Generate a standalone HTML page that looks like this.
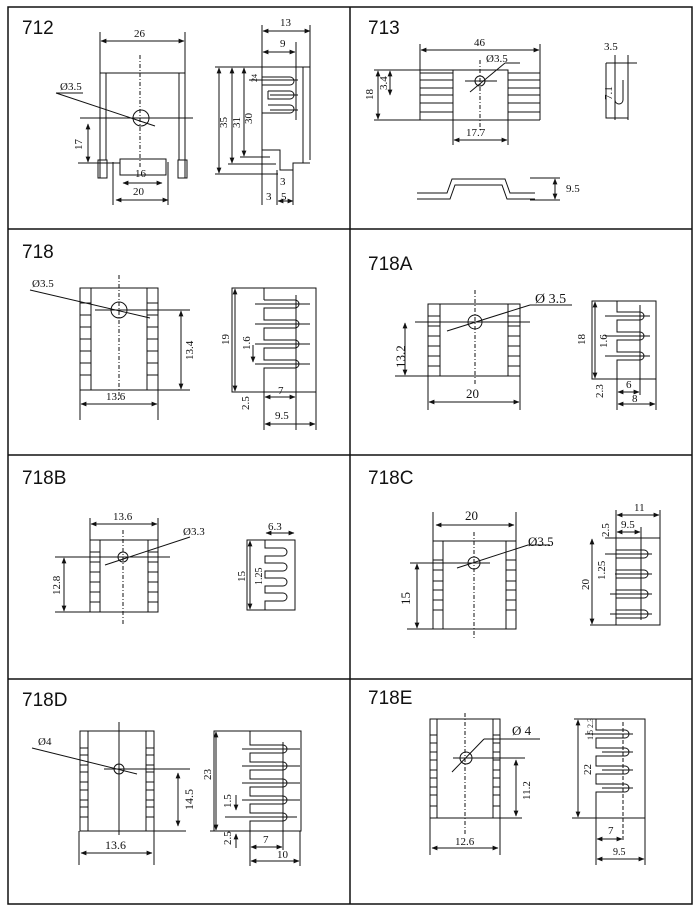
<!DOCTYPE html>
<html><head><meta charset="utf-8"><style>
html,body{margin:0;padding:0;background:#fff}
svg{display:block}
text{font-family:"Liberation Serif",serif;font-size:11px;fill:#111}
.t{font-family:"Liberation Sans",sans-serif;font-size:19px}
</style></head><body>
<svg width="700" height="909" viewBox="0 0 700 909" xmlns="http://www.w3.org/2000/svg">
<defs><marker id="a" viewBox="0 0 10 10" refX="9" refY="5" markerWidth="6" markerHeight="6" orient="auto-start-reverse"><path d="M0,1L10,5L0,9z" fill="#111"/></marker></defs>
<g fill="none" stroke="#111" stroke-width="1.5">
<rect x="8" y="7" width="684" height="897"/>
<line x1="8" y1="229" x2="692" y2="229"/><line x1="8" y1="455" x2="692" y2="455"/><line x1="8" y1="679" x2="692" y2="679"/>
<line x1="350" y1="7" x2="350" y2="904"/>
</g>
<g class="t"><text x="22" y="34" class="t">712</text><text x="368" y="34" class="t">713</text><text x="22" y="258" class="t">718</text><text x="368" y="270" class="t">718A</text><text x="22" y="484" class="t">718B</text><text x="368" y="484" class="t">718C</text><text x="22" y="706" class="t">718D</text><text x="368" y="704" class="t">718E</text></g>

<g fill="none" stroke="#111" stroke-width="1">
<!-- 712 front -->
<line x1="100" y1="32" x2="100" y2="178"/><line x1="185" y1="32" x2="185" y2="178"/>
<line x1="100" y1="73" x2="185" y2="73"/><line x1="106" y1="73" x2="106" y2="160"/><line x1="179" y1="73" x2="179" y2="160"/>
<line x1="101" y1="41" x2="184" y2="41" marker-start="url(#a)" marker-end="url(#a)"/>
<line x1="140" y1="55" x2="140" y2="168" stroke-dasharray="4,2,1,2"/>
<circle cx="141" cy="118" r="8"/><line x1="80" y1="118" x2="193" y2="118"/>
<line x1="56" y1="93" x2="155" y2="126"/><line x1="56" y1="93" x2="83" y2="93"/>
<line x1="78" y1="163" x2="120" y2="163"/>
<line x1="88" y1="124" x2="88" y2="162" marker-start="url(#a)" marker-end="url(#a)"/>
<rect x="98" y="160" width="9" height="18"/><rect x="178" y="160" width="9" height="18"/>
<line x1="113" y1="162" x2="113" y2="205"/><line x1="168" y1="162" x2="168" y2="205"/>
<rect x="120" y="159" width="46" height="16"/>
<line x1="123" y1="183" x2="162" y2="183" marker-start="url(#a)" marker-end="url(#a)"/>
<line x1="116" y1="200" x2="168" y2="200" marker-start="url(#a)" marker-end="url(#a)"/>
<!-- 712 side -->
<line x1="262" y1="25" x2="262" y2="205"/><line x1="310" y1="25" x2="310" y2="160"/>
<line x1="215" y1="67" x2="310" y2="67"/><line x1="303" y1="67" x2="303" y2="163"/><line x1="303" y1="163" x2="310" y2="163"/>
<line x1="263" y1="31" x2="310" y2="31" marker-start="url(#a)" marker-end="url(#a)"/>
<line x1="296" y1="42" x2="296" y2="120"/><line x1="263" y1="52" x2="295" y2="52" marker-start="url(#a)" marker-end="url(#a)"/>
<path d="M262,77 H290 A4,4 0 0 1 290,85 H262"/><path d="M268,91 H290 A4,4 0 0 1 290,99 H268 V91"/><path d="M268,105 H290 A4,4 0 0 1 290,113 H262"/>
<line x1="249" y1="80" x2="298" y2="80"/><line x1="270" y1="95" x2="298" y2="95"/><line x1="270" y1="110" x2="298" y2="110"/>
<path d="M262,113 V150 H280 V170 H293 V163 H303"/>
<line x1="219" y1="68" x2="219" y2="173" marker-start="url(#a)" marker-end="url(#a)"/><line x1="215" y1="174" x2="278" y2="174"/>
<line x1="232" y1="68" x2="232" y2="163" marker-start="url(#a)" marker-end="url(#a)"/><line x1="228" y1="164" x2="276" y2="164"/>
<line x1="244" y1="68" x2="244" y2="156" marker-start="url(#a)" marker-end="url(#a)"/><line x1="240" y1="157" x2="270" y2="157"/>
<line x1="277" y1="170" x2="277" y2="205"/><line x1="293" y1="170" x2="293" y2="205"/><line x1="278" y1="201" x2="293" y2="201" marker-start="url(#a)" marker-end="url(#a)"/>
<!-- 713 -->
<line x1="420" y1="44" x2="420" y2="120"/><line x1="540" y1="44" x2="540" y2="120"/>
<line x1="421" y1="50" x2="539" y2="50" marker-start="url(#a)" marker-end="url(#a)"/>
<rect x="453" y="70" width="55" height="50"/>
<path d="M420,73 H453 M420,80 H453 M420,88 H453 M420,95 H453 M420,103 H453 M420,112 H453 M420,120 H453"/>
<path d="M508,73 H540 M508,80 H540 M508,88 H540 M508,95 H540 M508,103 H540 M508,112 H540 M508,120 H540"/>
<line x1="480" y1="60" x2="480" y2="130" stroke-dasharray="4,2,1,2"/>
<circle cx="480" cy="81" r="5"/><line x1="465" y1="81" x2="497" y2="81"/><line x1="470" y1="92" x2="505" y2="63"/><line x1="505" y1="63" x2="520" y2="63"/>
<line x1="374" y1="70" x2="453" y2="70"/><line x1="374" y1="120" x2="420" y2="120"/>
<line x1="378" y1="71" x2="378" y2="119" marker-start="url(#a)" marker-end="url(#a)"/>
<line x1="390" y1="71" x2="390" y2="95" marker-start="url(#a)" marker-end="url(#a)"/>
<line x1="453" y1="120" x2="453" y2="145"/><line x1="508" y1="120" x2="508" y2="145"/><line x1="454" y1="140" x2="507" y2="140" marker-start="url(#a)" marker-end="url(#a)"/>
<path d="M417,193 H447 L452,179 H505 L510,193 H535"/><path d="M417,199 H450 L455,185 H502 L507,199 H535"/>
<line x1="530" y1="178" x2="560" y2="178"/><line x1="530" y1="200" x2="560" y2="200"/>
<line x1="555" y1="179" x2="555" y2="199" marker-start="url(#a)" marker-end="url(#a)"/>
<line x1="615" y1="55" x2="615" y2="120"/><line x1="628" y1="55" x2="628" y2="120"/><line x1="606" y1="63" x2="637" y2="63"/>
<path d="M606,63 V118 H628"/><path d="M615,80 V100 A4,4 0 0 0 623,100 V80"/>
<!-- 718 -->
<rect x="80" y="288" width="78" height="102"/><line x1="91" y1="288" x2="91" y2="390"/><line x1="147" y1="288" x2="147" y2="390"/>
<path d="M80,303H91M80,315H91M80,327H91M80,339H91M80,351H91M80,363H91M80,375H91M147,303H158M147,315H158M147,327H158M147,339H158M147,351H158M147,363H158M147,375H158"/>
<line x1="80" y1="390" x2="80" y2="420"/><line x1="158" y1="390" x2="158" y2="420"/>
<line x1="81" y1="404" x2="157" y2="404" marker-start="url(#a)" marker-end="url(#a)"/>
<line x1="119" y1="275" x2="119" y2="400" stroke-dasharray="4,2,1,2"/>
<circle cx="119" cy="310" r="8"/><line x1="95" y1="310" x2="190" y2="310"/><line x1="30" y1="290" x2="150" y2="318"/>
<line x1="158" y1="390" x2="190" y2="390"/><line x1="181" y1="311" x2="181" y2="389" marker-start="url(#a)" marker-end="url(#a)"/>
<rect x="232" y="288" width="84" height="104"/>
<path d="M264,288 V300 M264,300 H295 A4,4 0 0 1 295,308 H264 V320 H295 A4,4 0 0 1 295,328 H264 V340 H295 A4,4 0 0 1 295,348 H264 V360 H295 A4,4 0 0 1 295,368 H264 V392"/>
<path d="M255,304H310M255,324H310M255,344H310M255,364H310"/><line x1="296" y1="295" x2="296" y2="430"/>
<line x1="235" y1="289" x2="235" y2="391" marker-start="url(#a)" marker-end="url(#a)"/>
<line x1="264" y1="392" x2="264" y2="430"/><line x1="316" y1="392" x2="316" y2="430"/>
<line x1="265" y1="397" x2="295" y2="397" marker-start="url(#a)" marker-end="url(#a)"/>
<line x1="265" y1="424" x2="315" y2="424" marker-start="url(#a)" marker-end="url(#a)"/>
<line x1="253" y1="345" x2="253" y2="362" marker-end="url(#a)"/>
<!-- 718A -->
<rect x="428" y="304" width="92" height="72"/><line x1="440" y1="304" x2="440" y2="376"/><line x1="508" y1="304" x2="508" y2="376"/>
<path d="M428,316H440M428,326H440M428,336H440M428,346H440M428,356H440M428,366H440M508,316H520M508,326H520M508,336H520M508,346H520M508,356H520M508,366H520"/>
<line x1="475" y1="290" x2="475" y2="384" stroke-dasharray="4,2,1,2"/>
<circle cx="475" cy="322" r="7"/><line x1="415" y1="322" x2="530" y2="322"/><line x1="447" y1="331" x2="530" y2="305"/><line x1="530" y1="305" x2="572" y2="305"/>
<line x1="395" y1="376" x2="428" y2="376"/><line x1="405" y1="323" x2="405" y2="375" marker-start="url(#a)" marker-end="url(#a)"/>
<line x1="428" y1="376" x2="428" y2="410"/><line x1="520" y1="376" x2="520" y2="410"/><line x1="429" y1="402" x2="519" y2="402" marker-start="url(#a)" marker-end="url(#a)"/>
<rect x="592" y="301" width="64" height="78"/>
<path d="M617,301 V312 H640 A4,4 0 0 1 640,320 H617 V332 H640 A4,4 0 0 1 640,340 H617 V352 H640 A4,4 0 0 1 640,360 H617 V379"/>
<path d="M605,316H650M605,336H650M605,356H650"/><line x1="640" y1="305" x2="640" y2="395"/>
<line x1="595" y1="302" x2="595" y2="378" marker-start="url(#a)" marker-end="url(#a)"/>
<line x1="617" y1="379" x2="617" y2="410"/><line x1="656" y1="379" x2="656" y2="410"/>
<line x1="618" y1="392" x2="639" y2="392" marker-start="url(#a)" marker-end="url(#a)"/><line x1="618" y1="404" x2="655" y2="404" marker-start="url(#a)" marker-end="url(#a)"/>
<!-- 718B -->
<rect x="90" y="540" width="68" height="72"/><line x1="100" y1="540" x2="100" y2="612"/><line x1="148" y1="540" x2="148" y2="612"/>
<path d="M90,552H100M90,562H100M90,572H100M90,582H100M90,592H100M90,602H100M148,552H158M148,562H158M148,572H158M148,582H158M148,592H158M148,602H158"/>
<line x1="90" y1="518" x2="90" y2="540"/><line x1="158" y1="518" x2="158" y2="540"/><line x1="91" y1="524" x2="157" y2="524" marker-start="url(#a)" marker-end="url(#a)"/>
<line x1="123" y1="530" x2="123" y2="625" stroke-dasharray="4,2,1,2"/>
<circle cx="123" cy="557" r="5"/><line x1="55" y1="557" x2="170" y2="557"/><line x1="105" y1="565" x2="190" y2="537"/>
<line x1="55" y1="612" x2="90" y2="612"/><line x1="64" y1="558" x2="64" y2="611" marker-start="url(#a)" marker-end="url(#a)"/>
<rect x="247" y="540" width="48" height="70"/>
<path d="M265,540 V548 H283 A4,4 0 0 1 283,556 H265 V563 H283 A4,4 0 0 1 283,571 H265 V578 H283 A4,4 0 0 1 283,586 H265 V593 H283 A4,4 0 0 1 283,601 H265 V610"/>
<line x1="250" y1="541" x2="250" y2="609" marker-start="url(#a)" marker-end="url(#a)"/>
<line x1="266" y1="533" x2="294" y2="533" marker-start="url(#a)" marker-end="url(#a)"/>
<!-- 718C -->
<rect x="433" y="541" width="83" height="88"/><line x1="443" y1="541" x2="443" y2="629"/><line x1="506" y1="541" x2="506" y2="629"/>
<path d="M433,560H443M433,570H443M433,581H443M433,590H443M433,600H443M433,610H443M506,560H516M506,570H516M506,581H516M506,590H516M506,600H516M506,610H516"/>
<line x1="433" y1="512" x2="433" y2="541"/><line x1="516" y1="512" x2="516" y2="541"/><line x1="436" y1="525" x2="514" y2="525" marker-start="url(#a)" marker-end="url(#a)"/>
<line x1="474" y1="532" x2="474" y2="640" stroke-dasharray="4,2,1,2"/>
<circle cx="474" cy="563" r="6"/><line x1="410" y1="563" x2="490" y2="563"/><line x1="457" y1="568" x2="528" y2="545"/><line x1="528" y1="545" x2="550" y2="545"/>
<line x1="407" y1="629" x2="516" y2="629"/><line x1="417" y1="564" x2="417" y2="628" marker-start="url(#a)" marker-end="url(#a)"/>
<rect x="616" y="538" width="44" height="87"/>
<path d="M616,538 V545"/><path d="M605,538 H616 V550 H644 A4,4 0 0 1 644,558 H616 V570 H644 A4,4 0 0 1 644,578 H616 V590 H644 A4,4 0 0 1 644,598 H616 V610 H644 A4,4 0 0 1 644,618 H616 V625 H590"/>
<path d="M605,554H652M615,574H652M610,594H652M610,614H652"/><line x1="641" y1="527" x2="641" y2="620"/>
<line x1="616" y1="510" x2="616" y2="538"/><line x1="660" y1="510" x2="660" y2="538"/>
<line x1="617" y1="515" x2="659" y2="515" marker-start="url(#a)" marker-end="url(#a)"/><line x1="617" y1="532" x2="640" y2="532" marker-start="url(#a)" marker-end="url(#a)"/>
<line x1="592" y1="539" x2="592" y2="624" marker-start="url(#a)" marker-end="url(#a)"/>
<!-- 718D -->
<rect x="80" y="731" width="74" height="100"/><line x1="88" y1="731" x2="88" y2="831"/><line x1="146" y1="731" x2="146" y2="831"/>
<path d="M80,748H88M80,755H88M80,765H88M80,772H88M80,782H88M80,790H88M80,800H88M80,807H88M80,817H88M146,748H154M146,755H154M146,765H154M146,772H154M146,782H154M146,790H154M146,800H154M146,807H154M146,817H154"/>
<line x1="119" y1="722" x2="119" y2="835"/><circle cx="119" cy="769" r="5"/><line x1="104" y1="769" x2="190" y2="769"/><line x1="32" y1="748" x2="137" y2="774"/>
<line x1="154" y1="831" x2="186" y2="831"/><line x1="178" y1="773" x2="178" y2="826" marker-start="url(#a)" marker-end="url(#a)"/>
<line x1="79" y1="831" x2="79" y2="865"/><line x1="154" y1="831" x2="154" y2="865"/><line x1="81" y1="853" x2="152" y2="853" marker-start="url(#a)" marker-end="url(#a)"/>
<rect x="214" y="731" width="87" height="100"/><line x1="210" y1="831" x2="250" y2="831"/>
<path d="M250,731 V745 H283 A4,4 0 0 1 283,753 H250 V762 H283 A4,4 0 0 1 283,770 H250 V779 H283 A4,4 0 0 1 283,787 H250 V796 H283 A4,4 0 0 1 283,804 H250 V813 H283 A4,4 0 0 1 283,821 H250 V831"/>
<path d="M242,749H300M242,766H300M242,783H300M242,800H300M225,817H297"/>
<line x1="283" y1="742" x2="283" y2="850"/><line x1="250" y1="831" x2="250" y2="866"/><line x1="300" y1="831" x2="300" y2="866"/>
<line x1="216" y1="732" x2="216" y2="830" marker-start="url(#a)" marker-end="url(#a)"/>
<line x1="251" y1="847" x2="282" y2="847" marker-start="url(#a)" marker-end="url(#a)"/><line x1="251" y1="861" x2="299" y2="861" marker-start="url(#a)" marker-end="url(#a)"/>
<line x1="236" y1="795" x2="236" y2="810" marker-end="url(#a)"/><line x1="236" y1="848" x2="236" y2="834" marker-end="url(#a)"/>
<!-- 718E -->
<rect x="430" y="719" width="70" height="99"/><line x1="437" y1="719" x2="437" y2="818"/><line x1="493" y1="719" x2="493" y2="818"/>
<path d="M430,735H437M430,743H437M430,752H437M430,760H437M430,770H437M430,778H437M430,787H437M430,795H437M430,806H437M493,735H500M493,743H500M493,752H500M493,760H500M493,770H500M493,778H500M493,787H500M493,795H500M493,806H500"/>
<line x1="465" y1="713" x2="465" y2="835" stroke-dasharray="4,2,1,2"/>
<circle cx="466" cy="758" r="6"/><line x1="453" y1="758" x2="525" y2="758"/><line x1="452" y1="772" x2="484" y2="739"/><line x1="484" y1="739" x2="540" y2="739"/>
<line x1="500" y1="818" x2="522" y2="818"/><line x1="516" y1="760" x2="516" y2="816" marker-start="url(#a)" marker-end="url(#a)"/>
<line x1="430" y1="818" x2="430" y2="855"/><line x1="500" y1="818" x2="500" y2="855"/><line x1="432" y1="848" x2="498" y2="848" marker-start="url(#a)" marker-end="url(#a)"/>
<path d="M574,719 H645 V818 H572"/><path d="M596,719 V730 H625 A4,4 0 0 1 625,738 H596 V748 H625 A4,4 0 0 1 625,756 H596 V766 H625 A4,4 0 0 1 625,774 H596 V784 H625 A4,4 0 0 1 625,792 H596 V818"/>
<path d="M585,734H633M602,752H633M602,770H633M602,788H633"/><line x1="623" y1="722" x2="623" y2="840" stroke-dasharray="4,2"/>
<line x1="596" y1="818" x2="596" y2="865"/><line x1="645" y1="818" x2="645" y2="865"/>
<line x1="578" y1="720" x2="578" y2="817" marker-start="url(#a)" marker-end="url(#a)"/>
<line x1="597" y1="839" x2="622" y2="839" marker-start="url(#a)" marker-end="url(#a)"/><line x1="597" y1="859" x2="644" y2="859" marker-start="url(#a)" marker-end="url(#a)"/>
</g>

<g>
<text x="134" y="37">26</text><text x="60" y="90">Ø3.5</text><text x="135" y="177">16</text><text x="133" y="195">20</text>
<text transform="translate(82,150) rotate(-90)">17</text>
<text x="280" y="26">13</text><text x="280" y="47">9</text>
<text transform="translate(227,128) rotate(-90)">35</text><text transform="translate(240,128) rotate(-90)">31</text><text transform="translate(252,124) rotate(-90)">30</text>
<text transform="translate(257,82) rotate(-90)" style="font-size:8px">24</text>
<text x="280" y="185">3</text><text x="266" y="200">3</text><text x="281" y="200">5</text>
<text x="474" y="46">46</text><text x="486" y="62">Ø3.5</text><text x="466" y="136">17.7</text>
<text transform="translate(373,100) rotate(-90)">18</text><text transform="translate(387,90) rotate(-90)">3.4</text>
<text x="566" y="192">9.5</text><text x="604" y="50">3.5</text><text transform="translate(612,100) rotate(-90)">7.1</text>
<text x="32" y="287">Ø3.5</text><text x="106" y="400">13.6</text><text transform="translate(193,360) rotate(-90)">13.4</text>
<text transform="translate(229,345) rotate(-90)">19</text><text transform="translate(250,350) rotate(-90)">1.6</text>
<text x="278" y="394">7</text><text x="275" y="419">9.5</text><text transform="translate(249,410) rotate(-90)">2.5</text>
<text x="535" y="303" style="font-size:14px">Ø 3.5</text><text x="466" y="398" style="font-size:13px">20</text>
<text transform="translate(405,368) rotate(-90)" style="font-size:13px">13.2</text>
<text transform="translate(585,345) rotate(-90)">18</text><text transform="translate(607,348) rotate(-90)">1.6</text>
<text x="626" y="388">6</text><text x="632" y="402">8</text><text transform="translate(603,398) rotate(-90)">2.3</text>
<text x="113" y="520">13.6</text><text x="183" y="535">Ø3.3</text><text transform="translate(60,595) rotate(-90)">12.8</text>
<text x="268" y="530">6.3</text><text transform="translate(245,582) rotate(-90)">15</text><text transform="translate(262,585) rotate(-90)" style="font-size:10px">1.25</text>
<text x="465" y="520" style="font-size:13px">20</text><text x="528" y="546" style="font-size:13px">Ø3.5</text>
<text transform="translate(410,605) rotate(-90)" style="font-size:13px">15</text>
<text x="634" y="511">11</text><text x="621" y="528">9.5</text><text transform="translate(609,537) rotate(-90)">2.5</text>
<text transform="translate(605,580) rotate(-90)">1.25</text><text transform="translate(589,590) rotate(-90)">20</text>
<text x="38" y="745">Ø4</text><text x="105" y="849" style="font-size:12px">13.6</text><text transform="translate(193,810) rotate(-90)" style="font-size:12px">14.5</text>
<text transform="translate(211,780) rotate(-90)">23</text><text transform="translate(231,808) rotate(-90)">1.5</text><text transform="translate(231,845) rotate(-90)">2.5</text>
<text x="263" y="843">7</text><text x="277" y="858">10</text>
<text x="512" y="735" style="font-size:13px">Ø 4</text><text x="455" y="845">12.6</text><text transform="translate(530,800) rotate(-90)">11.2</text>
<text transform="translate(591,775) rotate(-90)">22</text><text transform="translate(593,740) rotate(-90)" style="font-size:8px">1.5 2.3</text>
<text x="608" y="834">7</text><text x="613" y="855" style="font-size:10px">9.5</text>
</g>
</svg>
</body></html>
